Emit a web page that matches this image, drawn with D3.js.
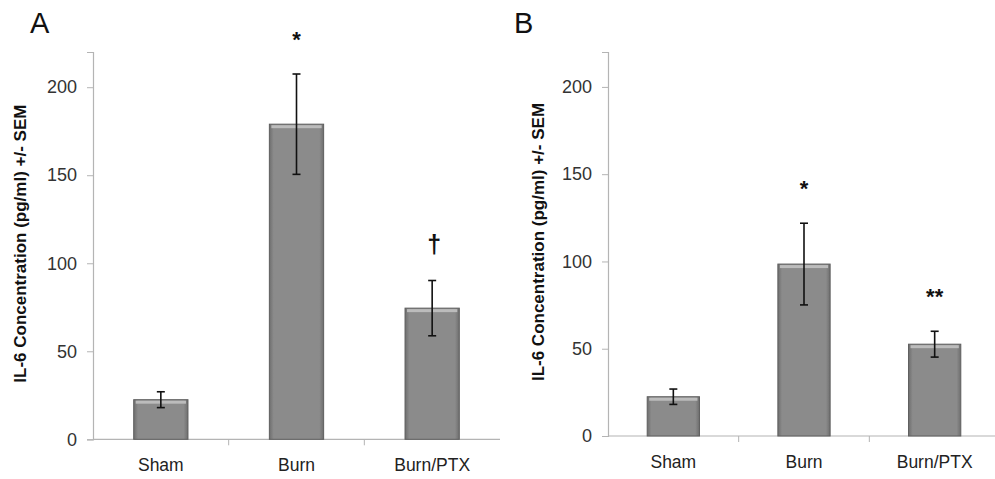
<!DOCTYPE html>
<html>
<head>
<meta charset="utf-8">
<script src="https://cdn.jsdelivr.net/npm/d3@7"></script>
<style>
  body { margin: 0; background: #fff; }
  svg { display: block; font-family: "Liberation Sans", Arial, sans-serif; }
</style>
</head>
<body>
<script>
// data
const groups = ["Sham", "Burn", "Burn/PTX"];
const yTicks = [0, 50, 100, 150, 200];

const meanA = [22.5, 179, 74.5];
const semA = [4.5, 28.5, 15.7];
const marksA = ["", "*", "\u2020"];

const meanB = [22.5, 98.5, 52.6];
const semB = [4.4, 23.4, 7.4];
const marksB = ["", "*", "**"];

const svg = d3.select("body").append("svg")
  .attr("width", 995)
  .attr("height", 479);

// bar gradient: darker edges, lighter middle
const defs = svg.append("defs");
const grad = defs.append("linearGradient").attr("id", "barGrad")
  .attr("x1", "0").attr("x2", "1").attr("y1", "0").attr("y2", "0");
grad.append("stop").attr("offset", "0").attr("stop-color", "#6e6e6e");
grad.append("stop").attr("offset", "0.08").attr("stop-color", "#8b8b8b");
grad.append("stop").attr("offset", "0.92").attr("stop-color", "#8b8b8b");
grad.append("stop").attr("offset", "1").attr("stop-color", "#6e6e6e");

function panel(opts) {
  const g = svg.append("g");
  const y = d3.scaleLinear().domain([0, 220]).range([opts.bottom, 52]);
  const x = d3.scaleBand().domain(groups)
    .range([opts.left, opts.right])
    .paddingInner(0.6).paddingOuter(0.3);

  // y axis
  const yAxis = d3.axisLeft(y).tickValues(yTicks).tickSize(6).tickPadding(10);
  const ya = g.append("g").attr("transform", `translate(${opts.left},0)`).call(yAxis);
  ya.select(".domain").attr("stroke", "#b4b4b4").attr("stroke-width", 1.2);
  ya.selectAll(".tick line").attr("stroke", "#b4b4b4");
  ya.selectAll(".tick text").attr("fill", "#333")
    .style("font-size", "18px").style("font-family", "Liberation Sans, Arial, sans-serif");

  // x axis with ticks between categories
  g.append("line")
    .attr("x1", opts.left).attr("x2", opts.right)
    .attr("y1", y(0)).attr("y2", y(0))
    .attr("stroke", "#b4b4b4").attr("stroke-width", 1.2);
  const step = x.step();
  g.selectAll(".divider").data(d3.range(1, groups.length)).join("line")
    .attr("class", "divider")
    .attr("x1", i => opts.left + i * step).attr("x2", i => opts.left + i * step)
    .attr("y1", y(0)).attr("y2", y(0) + 6)
    .attr("stroke", "#b4b4b4");
  g.selectAll(".cat").data(groups).join("text")
    .attr("class", "cat")
    .attr("x", d => x(d) + x.bandwidth() / 2)
    .attr("y", opts.bottom + 32)
    .attr("text-anchor", "middle")
    .attr("fill", "#222")
    .style("font-size", "17.5px")
    .text(d => d);

  // bars
  const rows = groups.map((k, i) => ({ k, m: opts.mean[i], s: opts.sem[i], mark: opts.marks[i] }));
  const bars = g.selectAll(".bar").data(rows).join("g").attr("class", "bar");
  bars.append("rect")
    .attr("x", d => x(d.k))
    .attr("y", d => y(d.m))
    .attr("width", x.bandwidth())
    .attr("height", d => y(0) - y(d.m))
    .attr("fill", "url(#barGrad)")
    .attr("stroke", "#5e5e5e")
    .attr("stroke-width", 1);
  // top highlight
  bars.append("rect")
    .attr("x", d => x(d.k) + 2)
    .attr("y", d => y(d.m) + 1)
    .attr("width", x.bandwidth() - 4)
    .attr("height", 3)
    .attr("fill", "#bcbcbc");

  // error bars
  const cx = d => x(d.k) + x.bandwidth() / 2;
  bars.append("line")
    .attr("x1", cx).attr("x2", cx)
    .attr("y1", d => y(d.m + d.s)).attr("y2", d => y(d.m - d.s))
    .attr("stroke", "#111").attr("stroke-width", 1.6);
  ["top", "bot"].forEach(w => {
    bars.append("line")
      .attr("x1", d => cx(d) - 4).attr("x2", d => cx(d) + 4)
      .attr("y1", d => y(w === "top" ? d.m + d.s : d.m - d.s))
      .attr("y2", d => y(w === "top" ? d.m + d.s : d.m - d.s))
      .attr("stroke", "#111").attr("stroke-width", 1.6);
  });

  // significance marks
  const dag = d => d.mark === "\u2020";
  bars.append("text")
    .attr("x", d => cx(d) + (dag(d) ? 2 : 0))
    .attr("y", d => y(d.m + d.s) - (dag(d) ? 28 : 27))
    .attr("text-anchor", "middle")
    .attr("fill", "#111")
    .style("font-size", d => dag(d) ? "25px" : "22px")
    .style("font-weight", "bold")
    .text(d => d.mark);

  // y axis title
  g.append("text")
    .attr("transform", `translate(${opts.titleX},${(opts.bottom + 52) / 2 - 2}) rotate(-90)`)
    .attr("text-anchor", "middle")
    .attr("fill", "#111")
    .style("font-size", "17px")
    .style("font-weight", "bold")
    .text("IL-6 Concentration (pg/ml) +/- SEM");

  // panel letter
  g.append("text")
    .attr("x", opts.letterX).attr("y", 33)
    .attr("fill", "#111")
    .style("font-size", "29px")
    .text(opts.letter);
}

panel({ left: 93, right: 500, bottom: 439.3, mean: meanA, sem: semA, marks: marksA,
        titleX: 26, letterX: 30, letter: "A" });
panel({ left: 608, right: 1000, bottom: 436, mean: meanB, sem: semB, marks: marksB,
        titleX: 544, letterX: 514, letter: "B" });
</script>
</body>
</html>
